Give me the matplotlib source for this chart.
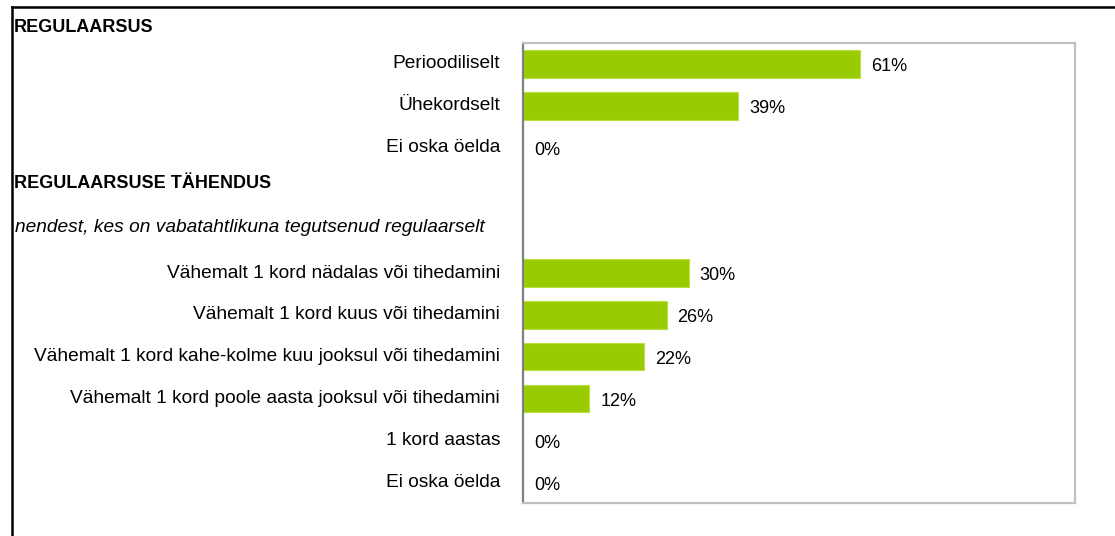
import matplotlib.pyplot as plt
from matplotlib.lines import Line2D
from matplotlib.transforms import blended_transform_factory

plt.rcParams['font.family'] = ['Liberation Sans', 'DejaVu Sans']

# Rows of the chart, top to bottom (headers have no value)
header_top = "REGULAARSUS"
rows = ["Perioodiliselt", "Ühekordselt", "Ei oska öelda",
        "REGULAARSUSE TÄHENDUS",
        "nendest, kes on vabatahtlikuna tegutsenud regulaarselt",
        "Vähemalt 1 kord nädalas või tihedamini",
        "Vähemalt 1 kord kuus või tihedamini",
        "Vähemalt 1 kord kahe-kolme kuu jooksul või tihedamini",
        "Vähemalt 1 kord poole aasta jooksul või tihedamini",
        "1 kord aastas", "Ei oska öelda"]
kinds = ["cat", "cat", "cat", "head", "sub", "cat", "cat", "cat", "cat", "cat", "cat"]
values = [61, 39, 0, None, None, 30, 26, 22, 12, 0, 0]

W, H = 1115, 536
fs = 13       # headers and value labels
fs_lab = 13.8  # category labels and subtitle
fig = plt.figure(figsize=(W / 100, H / 100), dpi=100)
ax = fig.add_axes([523 / W, (H - 503) / H, (1075 - 523) / W, (503 - 43) / H])

green = "#99cc00"
for i, v in enumerate(values):
    if v is None:
        continue
    if v > 0:
        ax.barh(i, v, height=0.66, color=green, edgecolor="#b8e040", linewidth=0.8)
    ax.annotate(f"{v}%", (v, i), xytext=(11, -3), textcoords="offset pixels",
                ha="left", va="center", fontsize=fs, color="black")

ax.set_xlim(0, 100)
ax.set_ylim(len(rows) - 0.5, -0.5)
ax.set_xticks([])
ax.set_yticks([])
for side in ["top", "right", "bottom"]:
    ax.spines[side].set_color("#c0c0c0")
    ax.spines[side].set_linewidth(1.6)
ax.spines["left"].set_color("#808080")
ax.spines["left"].set_linewidth(1.6)

# Row labels
tr = blended_transform_factory(fig.transFigure, ax.transData)
for i, (txt, k) in enumerate(zip(rows, kinds)):
    if k == "cat":
        ax.text(500 / W, i, txt, transform=tr, ha="right", va="center",
                fontsize=fs_lab, clip_on=False)
    elif k == "head":
        ax.text(14 / W, i - 0.13, txt, transform=tr, ha="left", va="center",
                fontsize=fs, fontweight="bold", clip_on=False)
    else:
        ax.text(15 / W, i - 0.08, txt, transform=tr, ha="left", va="center",
                fontsize=fs_lab, fontstyle="italic", clip_on=False)
ax.text(14 / W, -0.88, header_top, transform=tr, ha="left", va="center",
        fontsize=fs, fontweight="bold", clip_on=False)

# Outer frame (left and top edges)
fig.add_artist(Line2D([11.5 / W, 11.5 / W], [0, (H - 7) / H], color="black", lw=1.8,
                      transform=fig.transFigure))
fig.add_artist(Line2D([11.5 / W, 1], [(H - 7) / H, (H - 7) / H], color="black", lw=1.8,
                      transform=fig.transFigure))

fig.savefig("out.png", dpi=100)
